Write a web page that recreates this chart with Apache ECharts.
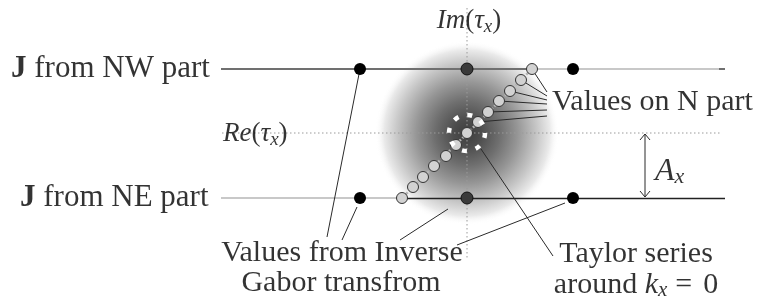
<!DOCTYPE html>
<html>
<head>
<meta charset="utf-8">
<script src="https://cdn.jsdelivr.net/npm/echarts@6/dist/echarts.min.js"></script>
<style>
html, body { margin: 0; padding: 0; background: #fff; }
#main { width: 765px; height: 304px; }
</style>
</head>
<body>
<div id="main"></div>
<script>
// diagram coordinates (x right, y down), same scale as the picture
var centerPt = [467, 133];
var blackDots = [[360, 69], [573, 69], [360, 198], [573, 198]];
var greyDots = [[467, 69], [467, 198]];
var diagCircles = [[402, 198], [413, 187], [423, 177], [434, 166], [446, 156], [456, 145], [467, 133],
                   [478, 122], [488, 112], [499, 101], [510, 91], [521, 80], [532, 69]];
var nLeaderEnds = [547, 116, 110, 104, 100, 96, 92]; // x, then y for circles 7..12

var darkGreySegs = [[[221, 69], [531, 69]], [[719, 69], [725, 69]]];
var lightSegs = [[[531, 69], [720, 69]], [[221, 198], [402, 198]]];
var blackSegs = [[[402, 198], [725, 198]]];
var diagLine = [[402, 198], [532, 69]];
var dottedSegs = [[[467, 8], [467, 258]], [[222, 133], [722, 133]]];
var leaderSegs = [
    [[360, 69], [327, 237]],
    [[357, 207], [342, 240]],
    [[448, 209], [400, 240]],
    [[565, 203], [457, 245]],
    [[481, 149], [553, 256]]
];
var arrowSegs = [
    [[645, 134], [645, 197]],
    [[640, 140], [645, 134], [650, 140]],
    [[640, 191], [645, 197], [650, 191]]
];

var labelTexts = [
    '{b|J} from NW part',
    '{b|J} from NE part',
    '{mi|Im}{mn|(}{mi|τ}{ms|x}{mn|)}',
    '{mi|Re}{mn|(}{mi|τ}{ms|x}{mn|)}',
    'Values on N part',
    '{ai|A}{as|x}',
    'Values from Inverse',
    'Gabor transfrom',
    'Taylor series',
    'around {ki|k}{ks|x}{eq|=}0'
];
var labelPos = [[11, 69], [20, 198], [469, 21], [223, 134], [552, 102], [655, 172],
                [342, 253], [341, 283], [636, 254], [636, 285]];
var labelAlign = ['left', 'left', 'center', 'left', 'left', 'left', 'center', 'center', 'center', 'center'];
var labelSize = [31, 31, 30, 30, 30, 30, 30, 30, 30, 30];

var FONT = 'Liberation Serif';

function segData(segs) {
    return segs.map(function (s) { return { coords: s }; });
}

var nLeaders = [];
for (var i = 0; i < 6; i++) {
    nLeaders.push([diagCircles[7 + i], [nLeaderEnds[0], nLeaderEnds[1 + i]]]);
}

var labelData = labelTexts.map(function (t, i) {
    return { value: labelPos[i], label: { formatter: t, align: labelAlign[i], fontSize: labelSize[i] } };
});

var option = {
    animation: false,
    grid: { left: 0, right: 0, top: 0, bottom: 0 },
    xAxis: { type: 'value', min: 0, max: 765, show: false },
    yAxis: { type: 'value', min: 0, max: 304, inverse: true, show: false },
    series: [
        {   // gaussian blob
            type: 'scatter', z: 1, silent: true,
            symbol: 'circle', symbolSize: 184,
            itemStyle: {
                color: new echarts.graphic.RadialGradient(0.5, 0.5, 0.5, [
                    { offset: 0, color: '#0d0d0d' },
                    { offset: 0.15, color: '#202020' },
                    { offset: 0.35, color: '#4a4a4a' },
                    { offset: 0.55, color: '#7c7c7c' },
                    { offset: 0.75, color: '#b6b6b6' },
                    { offset: 0.9, color: '#e4e4e4' },
                    { offset: 1, color: 'rgba(255,255,255,0)' }
                ])
            },
            data: [centerPt]
        },
        {
            type: 'lines', coordinateSystem: 'cartesian2d', z: 2, polyline: true,
            lineStyle: { color: '#9a9a9a', width: 1, type: [1.5, 2.5], opacity: 1 },
            data: segData(dottedSegs)
        },
        {
            type: 'lines', coordinateSystem: 'cartesian2d', z: 3,
            lineStyle: { color: '#c8c8c8', width: 2.2, opacity: 1 },
            data: segData(lightSegs)
        },
        {
            type: 'lines', coordinateSystem: 'cartesian2d', z: 3,
            lineStyle: { color: '#707070', width: 2, opacity: 1 },
            data: segData(darkGreySegs)
        },
        {
            type: 'lines', coordinateSystem: 'cartesian2d', z: 3,
            lineStyle: { color: '#222', width: 1.4, opacity: 1 },
            data: segData(blackSegs)
        },
        {
            type: 'lines', coordinateSystem: 'cartesian2d', z: 4,
            lineStyle: { color: '#b5b5b5', width: 2.5, type: [3, 2], opacity: 1 },
            data: [{ coords: diagLine }]
        },
        {   // leader lines
            type: 'lines', coordinateSystem: 'cartesian2d', z: 4, polyline: true,
            lineStyle: { color: '#2a2a2a', width: 1, opacity: 1 },
            data: segData(leaderSegs.concat(nLeaders).concat(arrowSegs))
        },
        {
            type: 'scatter', z: 5, symbolSize: 11,
            itemStyle: { color: '#d2d2d2', borderColor: '#333', borderWidth: 1, opacity: 1 },
            data: diagCircles
        },
        {
            type: 'scatter', z: 5, symbolSize: 12,
            itemStyle: { color: '#000', opacity: 1 },
            data: blackDots
        },
        {
            type: 'scatter', z: 5, symbolSize: 12,
            itemStyle: { color: '#3a3a3a', borderColor: '#111', borderWidth: 1, opacity: 1 },
            data: greyDots
        },
        {   // white dashed ring around k=0
            type: 'scatter', z: 6, symbolSize: 36,
            itemStyle: { color: 'rgba(0,0,0,0)', borderColor: '#fff', borderWidth: 4.5, borderType: [5, 9.1], opacity: 1 },
            data: [centerPt]
        },
        {   // texts
            type: 'scatter', z: 7, symbolSize: 0,
            label: {
                show: true, position: 'inside', verticalAlign: 'middle',
                color: '#000', fontFamily: FONT, fontSize: 30,
                rich: {
                    b: { fontFamily: FONT, fontSize: 31, fontWeight: 'bold', color: '#000' },
                    mi: { fontFamily: FONT, fontSize: 27, fontStyle: 'italic', color: '#000', lineHeight: 30 },
                    mn: { fontFamily: FONT, fontSize: 27, color: '#000', lineHeight: 30 },
                    ms: { fontFamily: FONT, fontSize: 19, fontStyle: 'italic', color: '#000', lineHeight: 14, verticalAlign: 'bottom' },
                    ai: { fontFamily: FONT, fontSize: 32, fontStyle: 'italic', color: '#000', lineHeight: 32 },
                    as: { fontFamily: FONT, fontSize: 22, fontStyle: 'italic', color: '#000', lineHeight: 15, verticalAlign: 'bottom' },
                    ki: { fontFamily: FONT, fontSize: 30, fontStyle: 'italic', color: '#000', lineHeight: 32 },
                    ks: { fontFamily: FONT, fontSize: 21, fontStyle: 'italic', color: '#000', lineHeight: 14, verticalAlign: 'bottom' },
                    eq: { fontFamily: FONT, fontSize: 30, color: '#000', lineHeight: 32, padding: [0, 11, 0, 8] }
                }
            },
            data: labelData
        }
    ]
};
var chart = echarts.init(document.getElementById('main'));
chart.setOption(option);
</script>
</body>
</html>
